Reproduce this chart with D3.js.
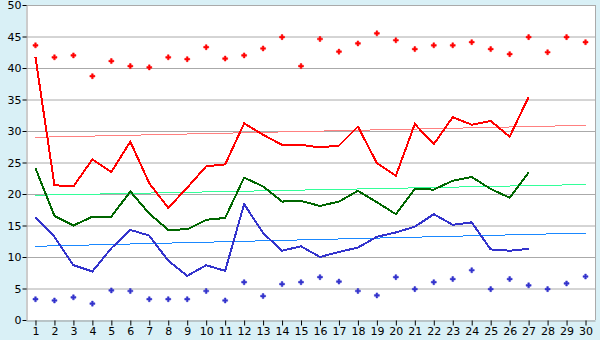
<!DOCTYPE html>
<html><head><meta charset="utf-8">
<script src="https://cdn.jsdelivr.net/npm/d3@7"></script>
<style>html,body{margin:0;padding:0;background:#d9f0f6;}svg{display:block;}</style>
</head><body><svg id="c" width="600" height="340"></svg>
<script>
const days = d3.range(1, 31);
const yTicks = [0,5,10,15,20,25,30,35,40,45,50];
const maxPoints = [43.6,41.7,42.0,38.7,41.1,40.3,40.1,41.7,41.4,43.3,41.5,42.0,43.1,44.9,40.3,44.6,42.6,43.9,45.5,44.4,43.0,43.6,43.6,44.1,43.0,42.2,44.9,42.5,44.9,44.1];
const minPoints = [3.3,3.1,3.6,2.6,4.7,4.6,3.3,3.3,3.3,4.6,3.1,6.0,3.8,5.7,6.0,6.8,6.1,4.6,3.9,6.8,4.9,6.0,6.5,7.9,4.9,6.5,5.5,4.9,5.8,6.9];
const redLine = [41.7,21.4,21.2,25.5,23.5,28.3,21.7,17.8,21.0,24.4,24.7,31.2,29.4,27.8,27.8,27.4,27.7,30.7,24.9,22.9,31.1,27.9,32.2,31.0,31.6,29.1,35.4];
const greenLine = [24.1,16.5,15.0,16.4,16.4,20.4,16.9,14.3,14.4,15.9,16.2,22.6,21.2,18.8,18.9,18.1,18.8,20.5,18.7,16.8,20.8,20.7,22.1,22.7,20.8,19.4,23.4];
const blueLine = [16.3,13.2,8.7,7.7,11.4,14.3,13.4,9.4,7.0,8.7,7.8,18.4,13.8,11.0,11.7,10.0,10.8,11.5,13.2,13.9,14.8,16.8,15.1,15.5,11.2,11.0,11.3];
const redTrend = [29.0, 30.9];
const greenTrend = [19.8, 21.5];
const blueTrend = [11.7, 13.8];

const svg = d3.select("#c");
const L=26, R=595, T=5, B=320;
const x = d3.scalePoint().domain(days).range([L,R]).padding(0.5);
const y = d3.scaleLinear().domain([0,50]).range([B,T]);

svg.append("rect").attr("x",L).attr("y",T).attr("width",R-L).attr("height",B-T).attr("fill","#fff");
svg.append("g").selectAll("line").data(yTicks.slice(1)).join("line")
  .attr("x1",L).attr("x2",R).attr("y1",d=>y(d)+0.5).attr("y2",d=>y(d)+0.5)
  .attr("stroke","#aaaaaa").attr("stroke-width",1);
svg.append("line").attr("x1",R+0.5).attr("x2",R+0.5).attr("y1",T).attr("y2",B).attr("stroke","#aaaaaa");

const font = "'DejaVu Sans', Verdana, sans-serif";
const yAxis = svg.append("g").attr("transform",`translate(${L+0.5},0)`)
  .call(d3.axisLeft(y).tickValues(yTicks).tickSize(4).tickSizeOuter(0));
const xAxis = svg.append("g").attr("transform",`translate(0,${B+0.5})`)
  .call(d3.axisBottom(x).tickSize(5).tickSizeOuter(0));
[yAxis,xAxis].forEach(a=>{
  a.select(".domain").attr("stroke","#999");
  a.selectAll(".tick line").attr("stroke","#000");
  a.selectAll("text").attr("fill","#000").style("font-family",font).style("font-size","11px");
});
yAxis.selectAll("text").attr("x",-5);
xAxis.selectAll("text").attr("y",7);

function trend(vals,color){
  svg.append("line").attr("x1",x(1)).attr("x2",x(30))
    .attr("y1",y(vals[0])).attr("y2",y(vals[1]))
    .attr("stroke",color).attr("stroke-width",1).attr("shape-rendering","crispEdges");
}
trend(redTrend,"#ff8080");
trend(greenTrend,"#33ff99");
trend(blueTrend,"#1a88ff");

function line(vals,color){
  svg.append("path").datum(vals)
    .attr("d",d3.line().x((d,i)=>x(days[i])).y(d=>y(d)))
    .attr("fill","none").attr("stroke",color).attr("stroke-width",2)
    .attr("shape-rendering","crispEdges");
}
line(blueLine,"#3333cc");
line(greenLine,"#006600");
line(redLine,"#ff0000");

function pts(vals,color){
  svg.append("g").selectAll("path").data(vals).join("path")
    .attr("d",d3.symbol(d3.symbolCross,14))
    .attr("transform",(d,i)=>`translate(${x(days[i])},${y(d)})`)
    .attr("fill",color).attr("stroke",color).attr("stroke-width",0.5);
}
pts(maxPoints,"#ff0000");
pts(minPoints,"#3333cc");
</script></body></html>
